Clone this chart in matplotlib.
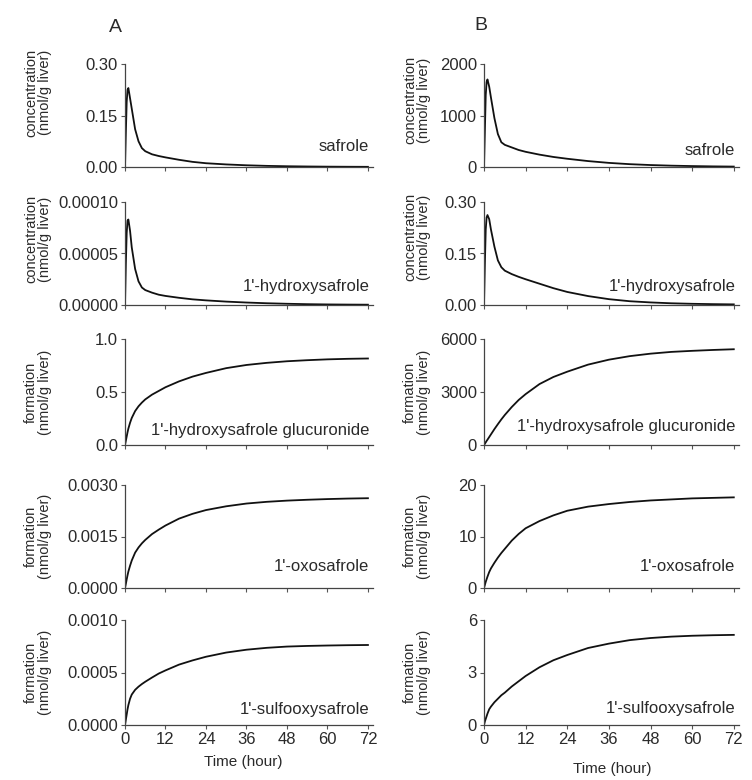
import numpy as np
import matplotlib
matplotlib.use("Agg")
import matplotlib.pyplot as plt

plt.rcParams['font.family'] = ['Liberation Sans', 'DejaVu Sans']

# time points (hour)
time = [0, 0.25, 0.5, 0.75, 1, 1.5, 2, 3, 4, 5, 6, 8, 10, 12, 16, 20, 24,
        30, 36, 42, 48, 54, 60, 66, 72]

# column A
a_safrole = [0, 0.10, 0.19, 0.225, 0.23, 0.20, 0.17, 0.11, 0.075, 0.055, 0.046,
             0.037, 0.032, 0.028, 0.021, 0.015, 0.011, 0.0075, 0.005, 0.0033,
             0.0022, 0.0015, 0.001, 0.0007, 0.0005]
a_hydroxy = [v * 1e-5 for v in
             [0, 4.0, 7.0, 8.2, 8.3, 7.2, 5.6, 3.5, 2.3, 1.7, 1.45, 1.2, 1.0,
              0.88, 0.70, 0.55, 0.45, 0.33, 0.24, 0.17, 0.12, 0.08, 0.055,
              0.04, 0.03]]
a_gluc = [0, 0.04, 0.08, 0.12, 0.155, 0.21, 0.255, 0.32, 0.365, 0.40, 0.43,
          0.475, 0.51, 0.545, 0.60, 0.645, 0.68, 0.725, 0.755, 0.775, 0.79,
          0.80, 0.808, 0.813, 0.816]
a_oxo = [v * 1e-3 for v in
         [0, 0.12, 0.25, 0.37, 0.48, 0.65, 0.80, 1.03, 1.18, 1.30, 1.40, 1.57,
          1.70, 1.82, 2.02, 2.16, 2.27, 2.38, 2.46, 2.51, 2.545, 2.57, 2.59,
          2.605, 2.615]]
a_sulfo = [v * 1e-3 for v in
           [0, 0.05, 0.10, 0.15, 0.19, 0.25, 0.29, 0.335, 0.365, 0.39, 0.412,
            0.452, 0.49, 0.52, 0.575, 0.615, 0.65, 0.69, 0.717, 0.735, 0.747,
            0.753, 0.757, 0.76, 0.762]]

# column B
b_safrole = [0, 700, 1400, 1650, 1700, 1560, 1350, 950, 640, 480, 430, 380,
             330, 295, 240, 195, 160, 115, 80, 55, 38, 26, 18, 12, 8]
b_hydroxy = [0, 0.12, 0.22, 0.255, 0.262, 0.25, 0.22, 0.17, 0.13, 0.11, 0.10,
             0.090, 0.082, 0.075, 0.062, 0.049, 0.038, 0.026, 0.017, 0.011,
             0.0075, 0.005, 0.0035, 0.0025, 0.0018]
b_gluc = [0, 70, 150, 230, 300, 450, 600, 900, 1180, 1450, 1700, 2150, 2550,
          2880, 3450, 3850, 4150, 4550, 4830, 5030, 5170, 5270, 5330, 5380, 5420]
b_oxo = [0, 0.6, 1.2, 1.7, 2.2, 3.1, 3.8, 4.9, 5.9, 6.8, 7.6, 9.2, 10.5, 11.6,
         13.0, 14.1, 15.0, 15.8, 16.3, 16.7, 17.0, 17.2, 17.4, 17.5, 17.6]
b_sulfo = [0, 0.2, 0.35, 0.5, 0.65, 0.9, 1.05, 1.3, 1.5, 1.7, 1.85, 2.2, 2.5,
           2.8, 3.3, 3.7, 4.0, 4.4, 4.65, 4.85, 4.97, 5.05, 5.1, 5.13, 5.15]

names = ["safrole", "1'-hydroxysafrole", "1'-hydroxysafrole glucuronide",
         "1'-oxosafrole", "1'-sulfooxysafrole"]
ylabels = ["concentration\n(nmol/g liver)"] * 2 + ["formation\n(nmol/g liver)"] * 3

a_series = [a_safrole, a_hydroxy, a_gluc, a_oxo, a_sulfo]
b_series = [b_safrole, b_hydroxy, b_gluc, b_oxo, b_sulfo]

a_yticks = [[0, 0.15, 0.30], [0, 0.00005, 0.0001], [0, 0.5, 1.0],
            [0, 0.0015, 0.003], [0, 0.0005, 0.001]]
a_ylabels = [["0.00", "0.15", "0.30"], ["0.00000", "0.00005", "0.00010"],
             ["0.0", "0.5", "1.0"], ["0.0000", "0.0015", "0.0030"],
             ["0.0000", "0.0005", "0.0010"]]
b_yticks = [[0, 1000, 2000], [0, 0.15, 0.30], [0, 3000, 6000],
            [0, 10, 20], [0, 3, 6]]
b_ylabels = [["0", "1000", "2000"], ["0.00", "0.15", "0.30"],
             ["0", "3000", "6000"], ["0", "10", "20"], ["0", "3", "6"]]

xticks = [0, 12, 24, 36, 48, 60, 72]

a_name_y = [0.20, 0.18, 0.14, 0.21, 0.15]
b_name_y = [0.16, 0.18, 0.17, 0.21, 0.16]
# vertical centre of the y label (axes fraction)
a_lab_y = [0.72, 0.64, 0.5, 0.5, 0.5]
b_lab_y = [0.65, 0.66, 0.5, 0.5, 0.5]

W, H = 752, 780
fig = plt.figure(figsize=(W / 100, H / 100), dpi=100)

rows = [(64, 167), (202, 305), (339, 445), (485, 588), (620, 725)]
cols = [(125, 373), (484, 739)]
txt = '#2a2a2a'


def draw(ax, y, yt, yl, name, ny, ylab, bottom, labx, laby):
    ax.plot(time, y, color='#111111', lw=1.3)
    ax.set_xlim(0, 73.5)
    ax.set_ylim(yt[0], yt[-1])
    ax.set_yticks(yt)
    ax.set_yticklabels(yl)
    ax.set_xticks(xticks)
    if bottom:
        ax.set_xticklabels([str(v) for v in xticks])
    else:
        ax.set_xticklabels([])
    for s in ['top', 'right']:
        ax.spines[s].set_visible(False)
    for s in ['left', 'bottom']:
        ax.spines[s].set_linewidth(0.9)
        ax.spines[s].set_color('#444444')
    ax.tick_params(direction='out', length=3, width=0.8, color='#555555',
                   labelsize=12, labelcolor=txt, pad=2)
    ax.text(0.985, ny, name, transform=ax.transAxes, ha='right', va='center',
            fontsize=12, color=txt)
    ax.set_ylabel(ylab, fontsize=10.5, color=txt, linespacing=1.0)
    ax.yaxis.set_label_coords(labx, laby)


for c, (x0, x1) in enumerate(cols):
    series = a_series if c == 0 else b_series
    yts = a_yticks if c == 0 else b_yticks
    yls = a_ylabels if c == 0 else b_ylabels
    nys = a_name_y if c == 0 else b_name_y
    lys = a_lab_y if c == 0 else b_lab_y
    labx = (52 - x0) / (x1 - x0) if c == 0 else (431 - x0) / (x1 - x0)
    for r, (t0, t1) in enumerate(rows):
        ax = fig.add_axes([x0 / W, 1 - t1 / H, (x1 - x0) / W, (t1 - t0) / H])
        draw(ax, series[r], yts[r], yls[r], names[r], nys[r], ylabels[r],
             r == 4, labx, lys[r])

fig.text(115 / W, 1 - 28 / H, "A", fontsize=14, color=txt, ha='center', va='center')
fig.text(481 / W, 1 - 25 / H, "B", fontsize=14, color=txt, ha='center', va='center')
fig.text(243 / W, 1 - 762 / H, "Time (hour)", fontsize=11, color=txt,
         ha='center', va='center')
fig.text(612 / W, 1 - 769 / H, "Time (hour)", fontsize=11, color=txt,
         ha='center', va='center')

fig.savefig("out.png", dpi=100, facecolor='white')
